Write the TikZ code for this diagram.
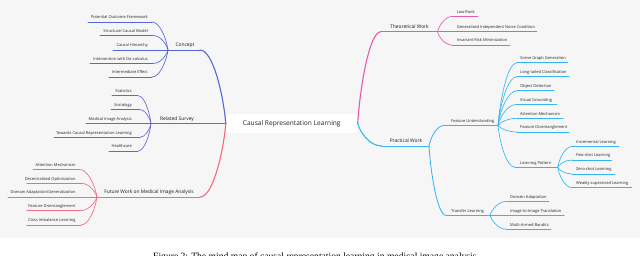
\documentclass[tikz,border=0pt]{standalone}
\usepackage{fontspec}
\setmainfont{Open Sans}
\newfontfamily\capfont{Liberation Serif}
\usetikzlibrary{calc}
\definecolor{cblue}{HTML}{5468D8}
\definecolor{cpurp}{HTML}{7B5AD6}
\definecolor{cred}{HTML}{F26B7F}
\definecolor{cpink}{HTML}{E25CAE}
\definecolor{ccyan}{HTML}{36B6F0}
\definecolor{bggray}{HTML}{F6F6F6}
\newcommand\mmcurve[3]{\draw[#1] let \p1=(#2), \p2=(#3) in (#2) .. controls ({0.5*\x1+0.5*\x2},{\y1}) and ({\x2-0.1*(\x2-\x1)},{\y2-0.4*(\y2-\y1)}) .. (#3);}
\newcommand\lleaf[8]{%
 \coordinate (#1a) at (#3,#5); \coordinate (#1b) at (#4,#5);
 \node[leaf, anchor=base east] (#1) at (#6,#5-3.2) {#7};
 \draw[#2] (#1a) -- (#1b);
 \mmcurve{#2}{#1b}{#8}}
\newcommand\rleaf[8]{%
 \coordinate (#1a) at (#3,#5); \coordinate (#1b) at (#4,#5);
 \node[leaf, anchor=base west] (#1) at (#6,#5-3.2) {#7};
 \draw[#2] (#1a) -- (#1b);
 \mmcurve{#2}{#1a}{#8}}
\begin{document}
\begin{tikzpicture}[x=1pt,y=-1pt,line cap=round,
  leaf/.style={font=\fontsize{4.0}{5}\selectfont, inner sep=0pt, text=black!85},
  mainlbl/.style={font=\fontsize{4.9}{6}\selectfont, inner sep=0pt, text=black!90},
  rootlbl/.style={font=\fontsize{6.6}{8}\selectfont, inner sep=0pt, text=black!85},
  lw1/.style={line width=1.1pt},
  lw2/.style={line width=0.85pt},
  lw3/.style={line width=0.65pt}]
\useasboundingbox (0,0) rectangle (640,255);
\clip (0,0) rectangle (640,255);
\fill[white] (0,0) rectangle (640,255);
\fill[bggray] (0,0) rectangle (640,237.5);
% root
\node[rootlbl, fill=white, rounded corners=3pt, minimum width=131.5pt, minimum height=19pt] (root) at (291.75,123.5) {Causal Representation Learning};
% Concept
\coordinate (cj) at (168,50); \coordinate (cr) at (200,50);
\node[mainlbl, anchor=base] (concept) at (185,46.5) {Concept};
\draw[cblue,lw2] (cj) -- (cr);
\mmcurve{cblue,lw1}{cr}{root.west}
\lleaf{c1}{cblue,lw3}{88}{152}{22}{148}{Potential Outcome Framework}{cj}
\lleaf{c2}{cblue,lw3}{100}{153}{35.5}{148}{Structural Causal Model}{cj}
\lleaf{c3}{cblue,lw3}{113}{168}{50}{148}{Causal Hierarchy}{cj}
\lleaf{c4}{cblue,lw3}{90}{153}{63.5}{148}{Intervention with Do-calculus}{cj}
\lleaf{c5}{cblue,lw3}{109}{152}{77}{148}{Intermediate Effect}{cj}
% Related Survey
\coordinate (sj) at (151,123.5);
\node[mainlbl, anchor=base] (survey) at (177,120) {Related Survey};
\draw[cpurp,lw2] (sj) -- (root.west);
\lleaf{s1}{cpurp,lw3}{112}{138}{95.7}{132}{Statistics}{sj}
\lleaf{s2}{cpurp,lw3}{111}{139}{109.3}{132}{Sociology}{sj}
\lleaf{s3}{cpurp,lw3}{86}{151}{123.5}{132}{Medical Image Analysis}{sj}
\lleaf{s4}{cpurp,lw3}{54}{140}{137.3}{132}{Towards Causal Representation Learning}{sj}
\lleaf{s5}{cpurp,lw3}{109}{138}{151}{132}{Healthcare}{sj}
% Future Work
\coordinate (fj) at (97,197); \coordinate (fr) at (200,197);
\node[mainlbl, anchor=base] (future) at (149,193.5) {Future Work on Medical Image Analysis};
\draw[cred,lw2] (fj) -- (fr);
\mmcurve{cred,lw1}{fr}{root.west}
\lleaf{f1}{cred,lw3}{33}{79}{169.3}{75.7}{Attention Mechanism}{fj}
\lleaf{f2}{cred,lw3}{26.7}{81}{183.3}{75.7}{Decentralized Optimization}{fj}
\lleaf{f3}{cred,lw3}{8}{97}{197}{75.7}{Domain Adaptation/Generalization}{fj}
\lleaf{f4}{cred,lw3}{26.7}{80}{210.7}{75.7}{Feature Disentanglement}{fj}
\lleaf{f5}{cred,lw3}{26.7}{81}{225}{75.7}{Class Imbalance Learning}{fj}
% Theoretical Work
\coordinate (tl) at (381,31.7); \coordinate (tj) at (437.5,31.7);
\node[mainlbl, anchor=base] (theo) at (409.5,28.2) {Theoretical Work};
\draw[cpink,lw2] (tl) -- (tj);
\mmcurve{cpink,lw1}{tl}{root.east}
\rleaf{t1}{cpink,lw3}{452.7}{478}{16.3}{456.7}{Low Rank}{tj}
\rleaf{t2}{cpink,lw3}{437.5}{536.7}{31.7}{456.7}{Generalized Independent Noise Condition}{tj}
\rleaf{t3}{cpink,lw3}{452}{510}{45}{456.7}{Invariant Risk Minimization}{tj}
% Practical Work
\coordinate (pl) at (381.7,146); \coordinate (pj) at (429,146);
\node[mainlbl, anchor=base] (prac) at (406,142.5) {Practical Work};
\draw[ccyan,lw2] (pl) -- (pj);
\mmcurve{ccyan,lw1}{pl}{root.east}
\rleaf{fu}{ccyan,lw2}{444}{498}{125.5}{451}{Feature Understanding}{pj}
\rleaf{tr}{ccyan,lw2}{446}{490}{215.3}{451}{Transfer Learning}{pj}
\rleaf{u1}{ccyan,lw3}{517}{567.7}{62.7}{520}{Scene Graph Generation}{fub}
\rleaf{u2}{ccyan,lw3}{517}{569.3}{76.7}{520}{Long-tailed Classification}{fub}
\rleaf{u3}{ccyan,lw3}{517}{554}{90.7}{520}{Object Detection}{fub}
\rleaf{u4}{ccyan,lw3}{517}{556.7}{104.3}{520}{Visual Grounding}{fub}
\rleaf{u5}{ccyan,lw3}{517}{563.3}{118.3}{520}{Attention Mechanism}{fub}
\rleaf{u6}{ccyan,lw3}{517}{569.3}{132}{520}{Feature Disentanglement}{fub}
\rleaf{lp}{ccyan,lw3}{515}{557.7}{167.3}{520}{Learning Pattern}{fub}
\rleaf{l1}{ccyan,lw3}{572}{619}{146.5}{576}{Incremental Learning}{lpb}
\rleaf{l2}{ccyan,lw3}{572}{611.7}{160}{576}{Few-shot Learning}{lpb}
\rleaf{l3}{ccyan,lw3}{572}{615}{174}{576}{Zero-shot Learning}{lpb}
\rleaf{l4}{ccyan,lw3}{572}{631.7}{187.7}{576}{Weakly-supervised Learning}{lpb}
\rleaf{x1}{ccyan,lw3}{506.7}{549}{201.3}{510}{Domain Adaptation}{trb}
\rleaf{x2}{ccyan,lw3}{490}{564.3}{215.3}{510}{Image-to-Image Translation}{trb}
\rleaf{x3}{ccyan,lw3}{506.7}{551}{229.3}{510}{Multi-Armed Bandits}{trb}
% caption (only its top edge is inside the picture)
\node[font=\capfont\fontsize{9.6}{11}\selectfont, anchor=north west, inner sep=0pt, text=black] (cap) at (153,252.8) {Figure 2: The mind map of causal representation learning in medical image analysis.};
\end{tikzpicture}
\end{document}
